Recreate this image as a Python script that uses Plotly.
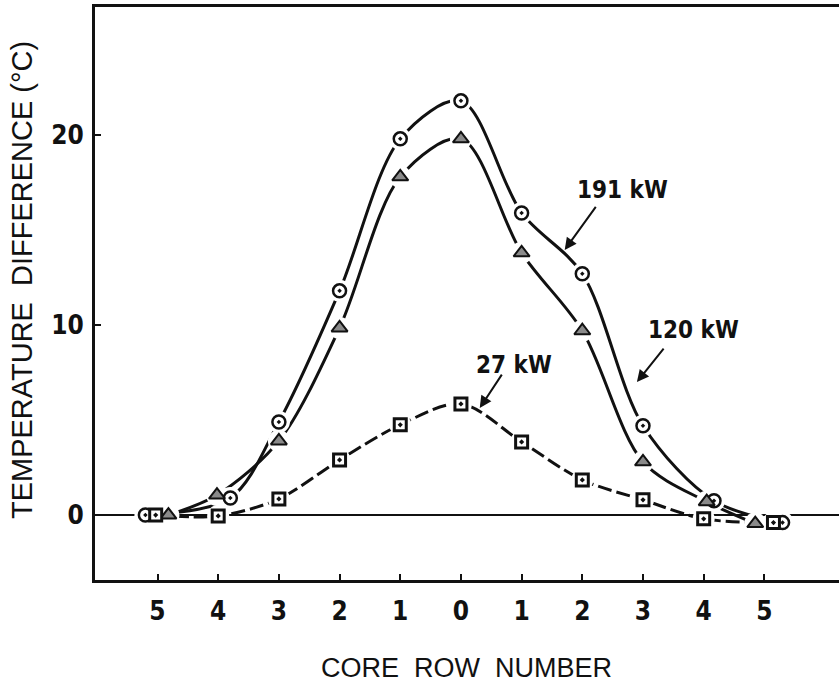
import plotly.graph_objects as go

# ---- data ----
x_191 = [-5.2, -3.8, -3, -2, -1, 0, 1, 2, 3, 4.17, 5.3]
y_191 = [0, 0.9, 4.9, 11.8, 19.8, 21.8, 15.9, 12.7, 4.7, 0.75, -0.4]

x_120 = [-4.82, -4.02, -3, -2, -1, 0, 1, 2, 3, 4.05, 4.85]
y_120 = [0, 1.05, 3.9, 9.85, 17.8, 19.8, 13.8, 9.7, 2.8, 0.7, -0.45]

x_27 = [-5.03, -4, -3, -2, -1, 0, 1, 2, 3, 4, 5.15]
y_27 = [0, -0.05, 0.85, 2.9, 4.75, 5.85, 3.85, 1.85, 0.8, -0.2, -0.4]

x_tickvals = [-5, -4, -3, -2, -1, 0, 1, 2, 3, 4, 5]
x_ticktext = ["5", "4", "3", "2", "1", "0", "1", "2", "3", "4", "5"]
y_tickvals = [0, 10, 20]
y_ticktext = ["0", "10", "20"]

labels = ["191 kW", "120 kW", "27 kW"]

NARROW = "Liberation Sans Narrow, Arial Narrow, DejaVu Sans Condensed, sans-serif"
REG = "Liberation Sans, Arial, Helvetica, sans-serif"
INK = "#111111"

series = [
    (x_191, y_191, dict(symbol="circle-dot", size=13, color="white", line=dict(color=INK, width=2.5)), "solid", 3),
    (x_120, y_120, dict(symbol="triangle-up", size=14, color="#8a8a8a", line=dict(color=INK, width=2)), "solid", 3),
    (x_27, y_27, dict(symbol="square-dot", size=12, color="white", line=dict(color=INK, width=3)), "14px,5px", 3),
]

fig = go.Figure()

# lines
for (xs, ys, mk, dash, w), name in zip(series, labels):
    fig.add_trace(go.Scatter(x=xs, y=ys, mode="lines", name=name,
                             line=dict(color=INK, width=w, dash=dash, shape="spline", smoothing=0.9),
                             showlegend=False, hoverinfo="skip"))
# white halos to open gaps around markers
for (xs, ys, mk, dash, w) in series:
    fig.add_trace(go.Scatter(x=xs, y=ys, mode="markers",
                             marker=dict(symbol="circle", size=22, color="white", line=dict(width=0)),
                             showlegend=False, hoverinfo="skip"))
# markers
for (xs, ys, mk, dash, w), name in zip(series, labels):
    fig.add_trace(go.Scatter(x=xs, y=ys, mode="markers", name=name, marker=mk, showlegend=False))

annots = []
# labels with arrows: (text, text_x, text_y, tail_x, tail_y, tip_x, tip_y)
lab = [
    ("191 kW", 2.67, 17.1, 2.24, 16.3, 1.71, 13.95),
    ("120 kW", 3.84, 9.74, 3.36, 8.84, 2.9, 7.0),
    ("27 kW", 0.87, 7.9, 0.69, 7.47, 0.31, 5.63),
]
for t, tx, ty, ax, ay, hx, hy in lab:
    annots.append(dict(x=tx, y=ty, xref="x", yref="y", text=t, showarrow=False,
                       xanchor="center", yanchor="middle",
                       font=dict(family=NARROW, size=24, color=INK, weight=700)))
    annots.append(dict(x=hx, y=hy, xref="x", yref="y", ax=ax, ay=ay, axref="x", ayref="y",
                       text="", showarrow=True, arrowhead=2, arrowsize=1.2, arrowwidth=2,
                       arrowcolor=INK))

annots.append(dict(x=-0.098, y=0.5236, xref="paper", yref="paper", text="TEMPERATURE  DIFFERENCE (°C)",
                   xanchor="center", yanchor="middle",
                   textangle=-90, showarrow=False, font=dict(family=REG, size=29, color=INK)))
annots.append(dict(x=0.4987, y=-0.1536, xref="paper", yref="paper", text="CORE  ROW  NUMBER",
                   xanchor="center", yanchor="middle",
                   showarrow=False, font=dict(family=REG, size=27, color=INK)))

fig.update_layout(
    width=839, height=700,
    margin=dict(l=95, r=0, t=7, b=120),
    paper_bgcolor="white", plot_bgcolor="white",
    annotations=annots,
    xaxis=dict(range=[-6.03, 6.23], tickvals=x_tickvals, ticktext=x_ticktext,
               showgrid=False, zeroline=False, showline=True, linecolor=INK, linewidth=3,
               mirror=True, ticks="inside", ticklen=6, tickwidth=2, tickcolor=INK,
               tickfont=dict(family=NARROW, size=26, color=INK, weight=700),
               ticklabelstandoff=6),
    yaxis=dict(range=[-3.42, 26.74], tickvals=y_tickvals, ticktext=y_ticktext,
               showgrid=False, zeroline=True, zerolinecolor=INK, zerolinewidth=1.5,
               showline=True, linecolor=INK, linewidth=3, mirror=False,
               ticks="inside", ticklen=6, tickwidth=2, tickcolor=INK,
               tickfont=dict(family=NARROW, size=26, color=INK, weight=700),
               ticklabelstandoff=3),
)

fig.write_html("out.html")
